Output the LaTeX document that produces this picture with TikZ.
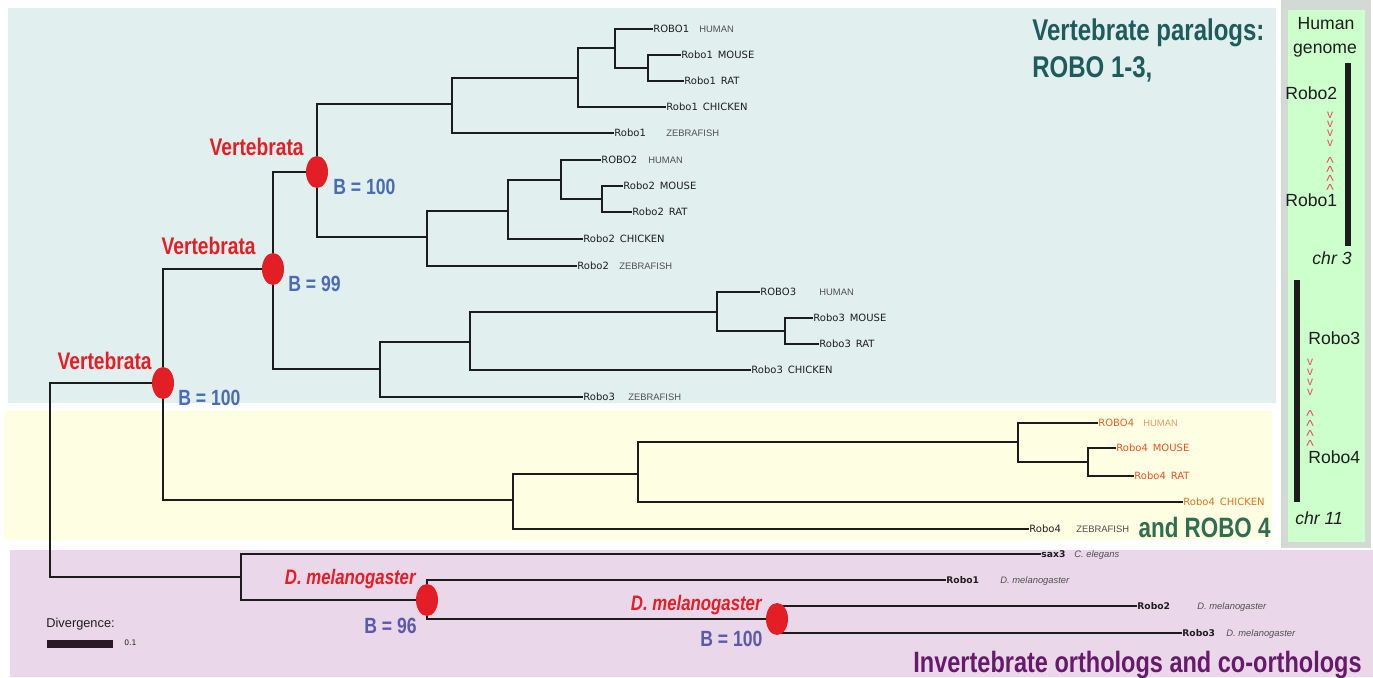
\documentclass[tikz,border=0pt]{standalone}
\usepackage{fontspec}
\setmainfont{Liberation Sans}
\newfontfamily\dejavu{DejaVu Sans}
\usetikzlibrary{shapes.geometric}

\definecolor{vertbg}{HTML}{E1EFEF}
\definecolor{robofourbg}{HTML}{FEFEE2}
\definecolor{invbg}{HTML}{EAD8EA}
\definecolor{genomeframe}{HTML}{D3D9D3}
\definecolor{genomebg}{HTML}{CCFFCC}
\definecolor{treeline}{HTML}{1C1C1C}
\definecolor{scalebar}{HTML}{2A1828}
\definecolor{nodered}{HTML}{E31E24}
\definecolor{bootblue}{HTML}{4A6CB2}
\definecolor{bootpurple}{HTML}{5A5AAA}
\definecolor{paralogteal}{HTML}{1E5B5B}
\definecolor{robofourgreen}{HTML}{2F6E4E}
\definecolor{orthologpurple}{HTML}{661A6A}
\definecolor{leafgene}{HTML}{1E1E1E}
\definecolor{leafspecies}{HTML}{505050}
\definecolor{orangedark}{HTML}{E0662A}
\definecolor{orangelight}{HTML}{E49A6C}
\definecolor{orangered}{HTML}{EE4E24}
\definecolor{orangechicken}{HTML}{D8741A}
\definecolor{chevron}{HTML}{E8506A}

\newcommand{\narrowtext}[1]{\scalebox{0.8}[1]{#1}}
\newcommand{\species}[1]{{\rmfamily\mdseries\fontsize{4.7}{5.5}\selectfont\color{leafspecies}#1}}
\newcommand{\leafname}[3]{\makebox[#1pt][l]{#2}\species{#3}}
% four marks stacked at a fixed pitch
\newcommand{\markstack}[2]{\vbox{\baselineskip=#1\lineskiplimit=-\maxdimen
  \hbox{#2}\hbox{#2}\hbox{#2}\hbox{#2}}}

\begin{document}
\begin{tikzpicture}[x=0.5pt, y=-0.5pt,
  branch/.style={draw=treeline, line width=1.25pt, line cap=rect},
  leaf/.style={anchor=west, inner sep=0.5pt, text height=3.6pt, text depth=0pt,
    text=leafgene, font=\dejavu\fontsize{5}{6}\selectfont},
  invleaf/.style={leaf, text height=3.3pt, font=\dejavu\bfseries\fontsize{4.6}{5.5}\selectfont},
  bootnode/.style={ellipse, fill=nodered, minimum width=11pt, minimum height=16pt, inner sep=0pt},
  cladename/.style={anchor=base east, inner sep=0pt, text=nodered,
    font=\bfseries\fontsize{12}{14}\selectfont},
  dmelname/.style={cladename, font=\bfseries\itshape\fontsize{10.5}{12}\selectfont},
  bootval/.style={anchor=base west, inner sep=0pt, text=bootblue,
    font=\bfseries\fontsize{11}{13}\selectfont},
  grouptitle/.style={inner sep=0pt, font=\bfseries\fontsize{15}{18}\selectfont},
  genomelabel/.style={inner sep=0pt, text=leafgene, font=\fontsize{8.8}{10}\selectfont},
  downmark/.style={inner sep=0pt, text=chevron, font=\fontsize{6}{6}\selectfont},
  upmark/.style={inner sep=0pt, text=chevron, font=\fontsize{8}{8}\selectfont}
]
  \useasboundingbox (0,0) rectangle (1373,677);
  \fill[white] (0,0) rectangle (1373,677);

  % === BACKGROUND PANELS ===
  \fill[vertbg] (8,8) rectangle (1276,403);
  \fill[robofourbg] (4,411) rectangle (1272,540);
  \fill[invbg] (10,550) rectangle (1373,677);
  \fill[genomeframe] (1281,0) rectangle (1371,548);
  \fill[genomebg] (1288,10) rectangle (1365,542);

  % === INTERNAL NODES ===
  \coordinate (root) at (50,383);
  \coordinate (v1) at (163,383);
  \coordinate (v2) at (273,269);
  \coordinate (v3) at (317,172);
  \coordinate (r1) at (452,104);
  \coordinate (r1a) at (578,78);
  \coordinate (r1b) at (615,48);
  \coordinate (r1c) at (648,68);
  \coordinate (r2) at (427,237);
  \coordinate (r2a) at (508,211);
  \coordinate (r2b) at (561,180);
  \coordinate (r2c) at (602,199);
  \coordinate (r3) at (380,369);
  \coordinate (r3a) at (470,342);
  \coordinate (r3b) at (717,312);
  \coordinate (r3c) at (785,331);
  \coordinate (r4) at (513,500);
  \coordinate (r4a) at (638,474);
  \coordinate (r4b) at (1018,442);
  \coordinate (r4c) at (1088,462);
  \coordinate (inv) at (241,577);
  \coordinate (dm1) at (427,600);
  \coordinate (dm2) at (777,619);

  % === LEAVES ===
  % ROBO1
  \node[leaf] (r1hu) at (652,29) {\leafname{23}{ROBO1}{HUMAN}};
  \node[leaf] (r1mo) at (680,55) {Robo1\enspace MOUSE};
  \node[leaf] (r1ra) at (683,81) {Robo1\enspace RAT};
  \node[leaf] (r1ch) at (665,107) {Robo1\enspace CHICKEN};
  \node[leaf] (r1ze) at (613,133) {\leafname{26}{Robo1}{ZEBRAFISH}};
  % ROBO2
  \node[leaf] (r2hu) at (600,160) {\leafname{23.5}{ROBO2}{HUMAN}};
  \node[leaf] (r2mo) at (622,186) {Robo2\enspace MOUSE};
  \node[leaf] (r2ra) at (631,212) {Robo2\enspace RAT};
  \node[leaf] (r2ch) at (582,239) {Robo2\enspace CHICKEN};
  \node[leaf] (r2ze) at (576,266) {\leafname{21}{Robo2}{ZEBRAFISH}};
  % ROBO3
  \node[leaf] (r3hu) at (759,292) {\leafname{29.5}{ROBO3}{HUMAN}};
  \node[leaf] (r3mo) at (812,318) {Robo3\enspace MOUSE};
  \node[leaf] (r3ra) at (818,344) {Robo3\enspace RAT};
  \node[leaf] (r3ch) at (750,370) {Robo3\enspace CHICKEN};
  \node[leaf] (r3ze) at (582,397) {\leafname{22.5}{Robo3}{ZEBRAFISH}};
  % ROBO4
  \node[leaf, text=orangedark] (r4hu) at (1097,423) {\leafname{22.5}{ROBO4}{\color{orangelight}HUMAN}};
  \node[leaf, text=orangered] (r4mo) at (1115,448) {Robo4\enspace MOUSE};
  \node[leaf, text=orangered] (r4ra) at (1133,476) {Robo4\enspace RAT};
  \node[leaf, text=orangechicken] (r4ch) at (1182,502) {Robo4\enspace CHICKEN};
  \node[leaf] (r4ze) at (1028,529) {\leafname{23.5}{Robo4}{ZEBRAFISH}};
  % invertebrates
  \node[invleaf] (sax) at (1040,554) {\leafname{16.5}{sax3}{\itshape C. elegans}};
  \node[invleaf] (dmr1) at (945,580) {\leafname{27}{Robo1}{\itshape D. melanogaster}};
  \node[invleaf] (dmr2) at (1136,606) {\leafname{30}{Robo2}{\itshape D. melanogaster}};
  \node[invleaf] (dmr3) at (1181,633) {\leafname{22}{Robo3}{\itshape D. melanogaster}};

  % === BRANCHES ===
  \foreach \from/\to in {root/v1, root/inv, v1/v2, v1/r4, v2/v3, v2/r3, v3/r1, v3/r2,
      r1/r1a, r1/r1ze.west, r1a/r1b, r1a/r1ch.west, r1b/r1hu.west, r1b/r1c,
      r1c/r1mo.west, r1c/r1ra.west,
      r2/r2a, r2/r2ze.west, r2a/r2b, r2a/r2ch.west, r2b/r2hu.west, r2b/r2c,
      r2c/r2mo.west, r2c/r2ra.west,
      r3/r3a, r3/r3ze.west, r3a/r3b, r3a/r3ch.west, r3b/r3hu.west, r3b/r3c,
      r3c/r3mo.west, r3c/r3ra.west,
      r4/r4a, r4/r4ze.west, r4a/r4b, r4a/r4ch.west, r4b/r4hu.west, r4b/r4c,
      r4c/r4mo.west, r4c/r4ra.west,
      inv/sax.west, inv/dm1, dm1/dmr1.west, dm1/dm2, dm2/dmr2.west, dm2/dmr3.west}
    \draw[branch] (\from) |- (\to);

  % === BOOTSTRAP NODES ===
  \node[bootnode] (b1) at (v1) {};
  \node[bootnode] (b2) at (v2) {};
  \node[bootnode] (b3) at (v3) {};
  \node[bootnode] (b4) at (dm1) {};
  \node[bootnode] (b5) at (dm2) {};

  \node[cladename] (b3name) at (304,155) {\narrowtext{Vertebrata}};
  \node[bootval] (b3val) at (333,194) {\narrowtext{B = 100}};
  \node[cladename] (b2name) at (256,254.5) {\narrowtext{Vertebrata}};
  \node[bootval] (b2val) at (288,291) {\narrowtext{B = 99}};
  \node[cladename] (b1name) at (152,369.5) {\narrowtext{Vertebrata}};
  \node[bootval] (b1val) at (178,405) {\narrowtext{B = 100}};
  \node[dmelname] (b4name) at (416,584) {\narrowtext{D. melanogaster}};
  \node[bootval, anchor=base east, text=bootpurple] (b4val) at (417,633) {\narrowtext{B = 96}};
  \node[dmelname] (b5name) at (762,610) {\narrowtext{D. melanogaster}};
  \node[bootval, text=bootpurple] (b5val) at (700,646) {\narrowtext{B = 100}};

  % === GROUP TITLES ===
  \node[grouptitle, anchor=base west, text=paralogteal] (partitle) at (1032,40) {\narrowtext{Vertebrate paralogs:}};
  \node[grouptitle, anchor=base west, text=paralogteal] (partitlb) at (1032,77) {\narrowtext{ROBO 1-3,}};
  \node[grouptitle, anchor=base east, text=robofourgreen, font=\bfseries\fontsize{14}{17}\selectfont] (r4title) at (1271,537) {\narrowtext{and ROBO 4}};
  \node[grouptitle, anchor=base west, text=orthologpurple, font=\bfseries\fontsize{14.7}{18}\selectfont] (invtitle) at (913,672) {\narrowtext{Invertebrate orthologs and co-orthologs}};

  % === SCALE BAR ===
  \node[anchor=base west, inner sep=0pt, text=leafgene, font=\fontsize{6.4}{8}\selectfont] (divlabel) at (46,627) {Divergence:};
  \fill[scalebar] (47,640) rectangle (113,648);
  \node[anchor=base west, inner sep=0pt, text=leafgene, font=\dejavu\fontsize{3.8}{4}\selectfont] (divvalue) at (124,645) {0.1};

  % === HUMAN GENOME PANEL ===
  \node[genomelabel, anchor=base] (hum) at (1326,29.5) {Human};
  \node[genomelabel, anchor=base] (gen) at (1325,53) {genome};
  \fill[treeline] (1345,63) rectangle (1351,246);
  \node[genomelabel, anchor=base west] (g2) at (1285,99) {Robo2};
  \node[downmark] (g2down) at (1330,129) {\markstack{4.65pt}{v}};
  \node[upmark] (g1up) at (1330,176.6) {\markstack{4.5pt}{\textasciicircum}};
  \node[genomelabel, anchor=base west] (g1) at (1285,206) {Robo1};
  \node[genomelabel, anchor=base, font=\itshape\fontsize{8.8}{10}\selectfont] (chra) at (1332,264) {chr 3};
  \fill[treeline] (1294,280) rectangle (1300,502);
  \node[genomelabel, anchor=base west] (g3) at (1308,344) {Robo3};
  \node[downmark] (g3down) at (1310,377) {\markstack{5pt}{v}};
  \node[upmark] (g4up) at (1310,430.6) {\markstack{5pt}{\textasciicircum}};
  \node[genomelabel, anchor=base west] (g4) at (1308,463) {Robo4};
  \node[genomelabel, anchor=base west, font=\itshape\fontsize{8.8}{10}\selectfont] (chrb) at (1295,524) {chr 11};
\end{tikzpicture}
\end{document}
